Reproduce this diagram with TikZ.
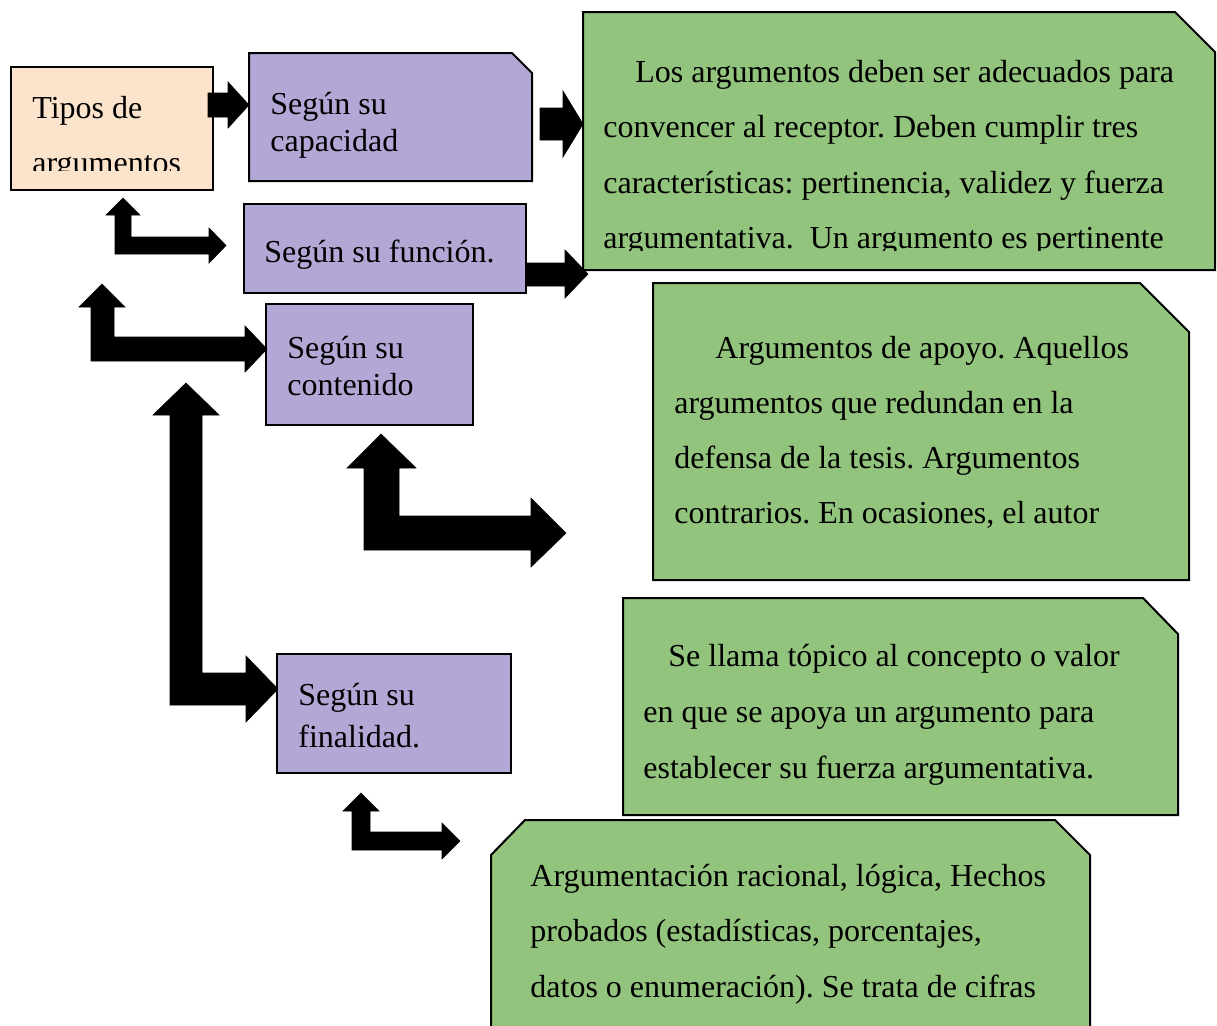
\documentclass[tikz,border=0pt]{standalone}
\usepackage{fontspec}
\setmainfont{Liberation Serif}
\frenchspacing
\definecolor{peach}{RGB}{252,228,204}
\definecolor{lila}{RGB}{179,167,214}
\definecolor{verde}{RGB}{147,196,125}
\tikzset{
  txt/.style={anchor=base west, inner sep=0pt, font=\fontsize{16}{19}\selectfont},
  tipobox/.style={draw=black, line width=1pt, fill=peach},
  segunbox/.style={draw=black, line width=1pt, fill=lila},
  notabox/.style={draw=black, line width=1pt, fill=verde},
  flecha/.style={fill=black, draw=black, line width=0.3pt, line join=miter}
}
\begin{document}
\begin{tikzpicture}[x=0.5pt, y=-0.5pt]
  \useasboundingbox (0,0) rectangle (1217,1025);
  \clip (0,0) rectangle (1217,1025);

  % cajas
  \draw[tipobox] (11,67) rectangle (213,190);
  \draw[segunbox] (249,53) -- (512,53) -- (532,73) -- (532,181) -- (249,181) -- cycle;
  \draw[segunbox] (244,204) rectangle (526,293);
  \draw[segunbox] (266,304) rectangle (473,425);
  \draw[segunbox] (277,654) rectangle (511,773);
  \draw[notabox] (583,12) -- (1175,12) -- (1215,52) -- (1215,270) -- (583,270) -- cycle;
  \draw[notabox] (653,283) -- (1140,283) -- (1189,332) -- (1189,580) -- (653,580) -- cycle;
  \draw[notabox] (623,598) -- (1143,598) -- (1178,634) -- (1178,815) -- (623,815) -- cycle;
  \draw[notabox] (491,1040) -- (491,855) -- (525,820) -- (1055,820) -- (1090,855) -- (1090,1040) -- cycle;

  % textos
  \node[txt] (tipos) at (32,118) {Tipos de};
  \begin{scope}
    \clip (11,67) rectangle (213,170);
    \node[txt] (tipos2) at (32,173) {argumentos};
  \end{scope}
  \node[txt] (cap) at (270,114) {Según su};
  \node[txt] (cap2) at (270,151) {capacidad};
  \node[txt] (func) at (264,262) {Según su función.};
  \node[txt] (cont) at (287,358) {Según su};
  \node[txt] (cont2) at (287,395) {contenido};
  \node[txt] (fin) at (298,705) {Según su};
  \node[txt] (fin2) at (298,747) {finalidad.};

  \node[txt] (n1a) at (635,82) {Los argumentos deben ser adecuados para};
  \node[txt] (n1b) at (603,137) {convencer al receptor. Deben cumplir tres};
  \node[txt] (n1c) at (603,193) {características: pertinencia, validez y fuerza};
  \begin{scope}
    \clip (583,200) rectangle (1215,250);
    \node[txt] (n1d) at (603,248) {argumentativa.~ Un argumento es pertinente};
  \end{scope}

  \node[txt] (n2a) at (715,358) {Argumentos de apoyo. Aquellos};
  \node[txt] (n2b) at (674,413) {argumentos que redundan en la};
  \node[txt] (n2c) at (674,468) {defensa de la tesis. Argumentos};
  \node[txt] (n2d) at (674,523) {contrarios. En ocasiones, el autor};

  \node[txt] (n3a) at (668,666) {Se llama tópico al concepto o valor};
  \node[txt] (n3b) at (643,722) {en que se apoya un argumento para};
  \node[txt] (n3c) at (643,778) {establecer su fuerza argumentativa.};

  \node[txt] (n4a) at (530,886) {Argumentación racional, lógica, Hechos};
  \node[txt] (n4b) at (530,941) {probados (estadísticas, porcentajes,};
  \node[txt] (n4c) at (530,997) {datos o enumeración). Se trata de cifras};

  % flechas rectas
  \fill[flecha] (208,93) -- (228,93) -- (228,82) -- (249,105) -- (228,128) -- (228,117) -- (208,117) -- cycle;
  \fill[flecha] (540,108) -- (563,108) -- (563,91) -- (583,124) -- (563,157) -- (563,140) -- (540,140) -- cycle;
  \fill[flecha] (526,263) -- (565,263) -- (565,250) -- (588,274) -- (565,298) -- (565,286) -- (526,286) -- cycle;

  % flechas en L
  \fill[flecha] (123,198) -- (140,215) -- (131,215) -- (131,237) -- (209,237) -- (209,228) -- (226,245.5)
    -- (209,263) -- (209,254) -- (115,254) -- (115,215) -- (106,215) -- cycle;
  \fill[flecha] (102,284) -- (125,307) -- (114,307) -- (114,337) -- (245,337) -- (245,326) -- (267,349)
    -- (245,372) -- (245,361) -- (91,361) -- (91,307) -- (79,307) -- cycle;
  \fill[flecha] (186,383) -- (219,415) -- (202,415) -- (202,673) -- (246,673) -- (246,656) -- (278,689)
    -- (246,722) -- (246,705) -- (170,705) -- (170,415) -- (153,415) -- cycle;
  \fill[flecha] (381,434) -- (416,468) -- (399,468) -- (399,516) -- (531,516) -- (531,498) -- (566,533)
    -- (531,567) -- (531,550) -- (364,550) -- (364,468) -- (347,468) -- cycle;
  \fill[flecha] (361,793) -- (379,811) -- (370,811) -- (370,832) -- (442,832) -- (442,823) -- (460,841)
    -- (442,859) -- (442,850) -- (352,850) -- (352,811) -- (343,811) -- cycle;
\end{tikzpicture}
\end{document}
